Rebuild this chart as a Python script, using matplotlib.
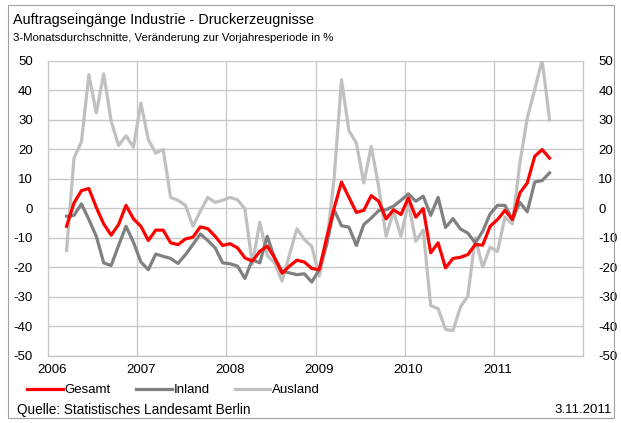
import numpy as np
import matplotlib
matplotlib.use("Agg")
import matplotlib.pyplot as plt
from matplotlib.patches import Rectangle

plt.rcParams['font.family'] = ['Liberation Sans', 'DejaVu Sans']

# monthly 3-month averages, Mar 2006 .. Aug 2011 (month index 2 .. 67 counted from Jan 2006)
start_month = 2
gesamt = [-6.1, 1.8, 6.0, 6.7, 0.3, -5.3, -9.1, -5.5, 1.0, -3.6,
          -6.1, -10.9, -7.4, -7.4, -11.7, -12.3, -10.4, -9.8, -6.3, -6.9,
          -9.5, -12.6, -12.0, -13.4, -16.8, -17.9, -14.6, -12.8, -16.8, -22.0,
          -19.6, -17.6, -18.2, -20.4, -20.8, -10.0, 0.0, 8.9, 3.7, -1.4,
          -0.7, 4.3, 2.4, -3.6, -0.5, -2.1, 3.5, -3.0, -0.1, -15.1,
          -11.7, -20.2, -17.0, -16.6, -15.7, -12.3, -12.5, -6.1, -3.8, -0.7,
          -3.8, 5.2, 8.6, 17.6, 19.9, 17.0]
inland = [-2.7, -2.4, 1.5, -3.8, -9.5, -18.5, -19.4, -12.6, -6.1, -11.5,
          -18.2, -20.8, -15.5, -16.3, -17.0, -18.7, -15.7, -12.3, -8.7, -10.9,
          -13.4, -18.5, -18.8, -19.6, -23.8, -17.4, -18.5, -9.5, -16.8, -21.3,
          -21.9, -22.5, -22.2, -25.0, -20.8, -12.3, -0.5, -5.9, -6.4, -12.6,
          -5.5, -3.3, -0.8, -0.5, 0.7, 2.7, 4.9, 2.4, 4.1, -2.4,
          3.7, -6.5, -3.5, -7.0, -8.4, -11.7, -7.8, -1.9, 1.0, 1.0,
          -3.8, 2.0, -1.2, 8.9, 9.4, 12.0]
ausland = [-14.3, 17.0, 22.5, 45.3, 32.3, 45.6, 29.5, 21.3, 24.6, 20.7,
           35.7, 23.3, 18.7, 20.0, 3.7, 2.7, 1.0, -6.1, -1.0, 3.7,
           2.0, 2.7, 3.7, 2.9, -0.2, -19.0, -4.7, -16.0, -18.5, -24.7,
           -15.7, -6.9, -10.6, -12.9, -23.0, -12.0, 10.0, 43.6, 26.3, 22.1,
           8.6, 21.0, 7.4, -9.5, -1.0, -9.5, 1.8, -11.2, -7.4, -33.0,
           -34.0, -41.0, -41.5, -33.5, -29.8, -10.0, -19.9, -13.2, -14.6, -3.0,
           -5.3, 15.3, 30.6, 40.2, 50.3, 30.0]
years = ['2006', '2007', '2008', '2009', '2010', '2011']
yticks = [50, 40, 30, 20, 10, 0, -10, -20, -30, -40, -50]

x = np.arange(len(gesamt)) + start_month + 0.5

fig = plt.figure(figsize=(6.21, 4.23), dpi=100)
W, H = 621, 423
ax = fig.add_axes([48 / W, 1 - 355.8 / H, 535 / W, 295 / H])

grid_c = '#C8C8C8'
ax.set_xlim(0, 72)
ax.set_ylim(-50, 50)
for v in yticks:
    ax.axhline(v, color=grid_c, lw=1.0, zorder=1)
for k in range(1, 6):
    ax.axvline(12 * k, color=grid_c, lw=1.0, zorder=1)
for s in ax.spines.values():
    s.set_color(grid_c)
    s.set_linewidth(1.0)
ax.spines['top'].set_visible(False)

ax.plot(x, ausland, color='#C0C0C0', lw=2.3, zorder=3, label='Ausland')
ax.plot(x, inland, color='#808080', lw=2.3, zorder=4, label='Inland')
ax.plot(x, gesamt, color='#FF0000', lw=2.3, zorder=5, label='Gesamt')

ax.set_yticks(yticks)
ax.set_yticklabels([str(v) for v in yticks])
ax.set_xticks([12 * k + 0.5 for k in range(len(years))])
ax.set_xticklabels(years)
ax.tick_params(axis='y', length=0, labelsize=9.5, pad=11, labelright=True)
ax.tick_params(axis='x', length=0, labelsize=9.5, pad=6)

h, l = ax.get_legend_handles_labels()
order = [2, 1, 0]
fig.legend([h[i] for i in order], [l[i] for i in order], loc='center left',
           bbox_to_anchor=(27 / W, 1 - 390 / H), ncol=3, frameon=False,
           fontsize=9.5, handlelength=2.7, handletextpad=0.15,
           columnspacing=1.9, borderpad=0, borderaxespad=0)

fig.text(13 / W, 1 - 20 / H, 'Auftragseingänge Industrie - Druckerzeugnisse',
         fontsize=10.4, va='center', ha='left')
fig.text(13 / W, 1 - 38 / H, '3-Monatsdurchschnitte, Veränderung zur Vorjahresperiode in %',
         fontsize=8.2, va='center', ha='left')
fig.text(17 / W, 1 - 410 / H, 'Quelle: Statistisches Landesamt Berlin',
         fontsize=9.8, va='center', ha='left')
fig.text(612 / W, 1 - 410 / H, '3.11.2011', fontsize=9.5, va='center', ha='right')

fig.patches.append(Rectangle((8 / W, 5 / H), 606 / W, 413 / H, transform=fig.transFigure,
                             fill=False, edgecolor='#A0A0A0', lw=0.8))

fig.savefig('out.png', dpi=100)
